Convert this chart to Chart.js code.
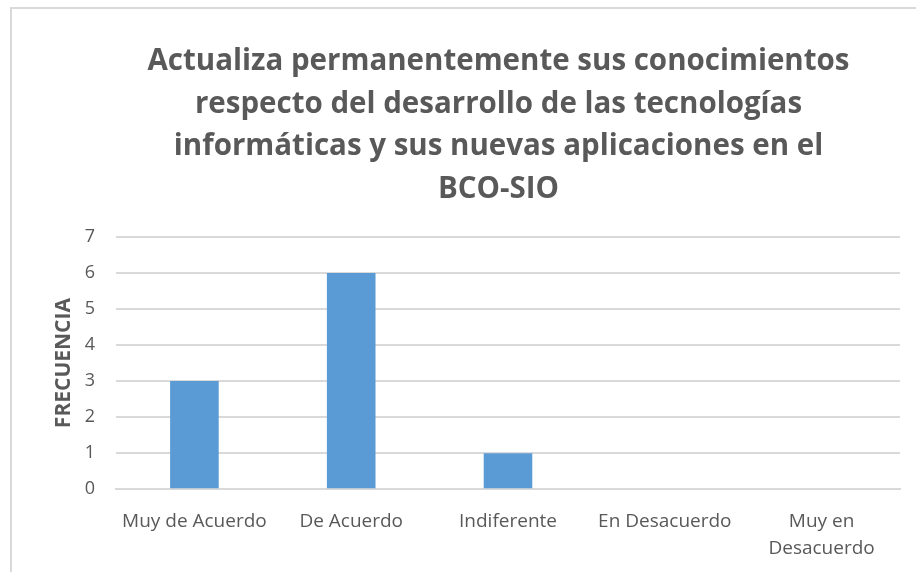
<!DOCTYPE html>
<html>
<head>
<meta charset="utf-8">
<script src="https://cdn.jsdelivr.net/npm/chart.js@4"></script>
<style>
  html, body { margin: 0; padding: 0; background: #fff; overflow: hidden; }
  #frame { position: absolute; left: 10px; top: 7px; width: 1000px; height: 700px; border: 2px solid #d9d9d9; }
  #wrap { position: absolute; left: 0; top: 0; width: 950px; height: 573px; }
</style>
</head>
<body>
<div id="frame"></div>
<div id="wrap"><canvas id="myChart"></canvas></div>
<script>
const categories = [ "Muy de Acuerdo", "De Acuerdo", "Indiferente", "En Desacuerdo", ["Muy en", "Desacuerdo"] ];
const frecuencia = [3, 6, 1, 0, 0];
const titleLines = [
  "Actualiza permanentemente sus conocimientos",
  "respecto del desarrollo de las tecnologías",
  "informáticas y sus nuevas aplicaciones en el",
  "BCO-SIO"
];

// colors
const BAR_BLUE = '#5b9bd5';
const GRID = '#d9d9d9';
const TEXT = '#595959';

const data = {
  labels: categories,
  datasets: [
    {
      label: 'Frecuencia',
      data: frecuencia,
      backgroundColor: BAR_BLUE,
      borderWidth: 0,
      categoryPercentage: 0.31,
      barPercentage: 1.0
    }
  ]
};

const config = {
  type: 'bar',
  data: data,
  options: {
    responsive: true,
    maintainAspectRatio: false,
    animation: false,
    layout: {
      padding: { left: 47, right: 0, top: 0, bottom: 0 }
    },
    plugins: {
      legend: { display: false },
      tooltip: { enabled: false },
      title: {
        display: true,
        text: titleLines,
        color: TEXT,
        font: { family: 'Open Sans', size: 29.5, weight: 'bold', lineHeight: 1.45 },
        padding: { top: 40, bottom: 26 }
      }
    },
    scales: {
      x: {
        grid: { display: false },
        border: { display: true, color: GRID, width: 2 },
        ticks: {
          color: TEXT,
          font: { family: 'Open Sans', size: 19, lineHeight: 1.47 },
          maxRotation: 0,
          autoSkip: false,
          padding: 10
        }
      },
      y: {
        min: 0,
        max: 7,
        border: { display: false },
        grid: { color: GRID, lineWidth: 2, drawTicks: false },
        ticks: {
          stepSize: 1,
          color: TEXT,
          font: { family: 'Open Sans', size: 18 },
          padding: 21
        },
        title: {
          display: true,
          text: 'FRECUENCIA',
          color: TEXT,
          font: { family: 'Open Sans', size: 21, weight: 'bold' }
        },
        afterFit: (scale) => { scale.width = 69; }
      },
      // empty room on the right, the chart box goes on past the picture edge
      yRight: {
        type: 'linear',
        position: 'right',
        display: true,
        border: { display: false },
        grid: { drawOnChartArea: false, drawTicks: false },
        ticks: { display: false },
        afterFit: (scale) => { scale.width = 50; }
      }
    }
  }
};

const myChart = new Chart(document.getElementById('myChart'), config);
</script>
</body>
</html>
